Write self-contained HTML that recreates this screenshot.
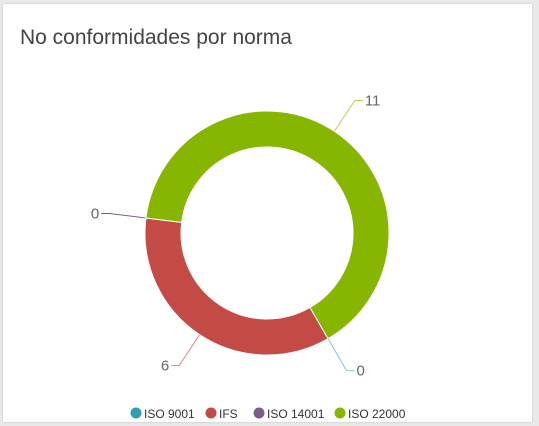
<!DOCTYPE html>
<html><head><meta charset="utf-8"><style>
body{margin:0;width:539px;height:426px;background:#e9e9e9;overflow:hidden;font-family:"Liberation Sans",sans-serif;}
#card{position:absolute;left:3px;top:4px;width:529px;height:418px;background:#fff;box-shadow:0 0 2px rgba(0,0,0,.2);}
#title{position:absolute;left:17px;top:22px;font-size:21px;color:#444;}
svg{position:absolute;left:0;top:0;}
</style></head><body>
<div id="card">
<div id="title">No conformidades por norma</div>
</div>
<svg id="chart" width="539" height="426"></svg>
<script>
const categories=["ISO 9001","IFS","ISO 14001","ISO 22000"];
const values=[0,6,0,11];
const colors=["#2f9fb0","#c44a46","#7b5a8c","#87b600"];
const lineColors=["#7fc8d4","#de8d8a","#7b5a8c","#b4d35a"];
const svg=document.getElementById('chart');const NS='http://www.w3.org/2000/svg';
const cx=267,cy=233,R=122,r=86,start=150;
function pt(a,rad){const t=a*Math.PI/180;return [cx+rad*Math.sin(t),cy-rad*Math.cos(t)];}
function mk(tag,attrs){const e=document.createElementNS(NS,tag);for(const k in attrs)e.setAttribute(k,attrs[k]);svg.appendChild(e);return e;}
const total=values.reduce((a,b)=>a+b,0);let a=start;
values.forEach((v,i)=>{
 const sweep=v/total*360;const a2=a+sweep;
 if(v>0){const p1=pt(a,R),p2=pt(a2,R),p3=pt(a2,r),p4=pt(a,r);const lg=sweep>180?1:0;
  const p=mk('path',{d:`M${p1}A${R},${R} 0 ${lg} 1 ${p2}L${p3}A${r},${r} 0 ${lg} 0 ${p4}Z`,fill:colors[i],stroke:'#fff','stroke-width':1});
  
  }
 const mid=a+sweep/2;const s=pt(mid,R),m=pt(mid,R+37);const right=Math.sin(mid*Math.PI/180)>=0;
 const ex=m[0]+(right?8:-8);
 const l=mk('polyline',{points:`${s} ${m} ${ex},${m[1]}`,fill:'none',stroke:lineColors[i],'stroke-width':1});
 
 
 const t=mk('text',{x:ex+(right?2:-2),y:m[1]+5,'text-anchor':right?'start':'end','font-size':15,fill:'#666','font-family':'Liberation Sans, sans-serif'});
 t.textContent=values[i];
 
 
 a=a2;});
const lx=[136,211,259,340];
categories.forEach((c,i)=>{
 const g=mk('g',{});
 
 
 const ci=document.createElementNS(NS,'circle');ci.setAttribute('cx',lx[i]);ci.setAttribute('cy',413);ci.setAttribute('r',5.5);ci.setAttribute('fill',colors[i]);g.appendChild(ci);
 const t=document.createElementNS(NS,'text');t.setAttribute('x',lx[i]+8);t.setAttribute('y',418);t.setAttribute('font-size',12);t.setAttribute('fill','#333');t.setAttribute('font-family','Liberation Sans, sans-serif');t.textContent=c;g.appendChild(t);});
</script>
</body></html>
